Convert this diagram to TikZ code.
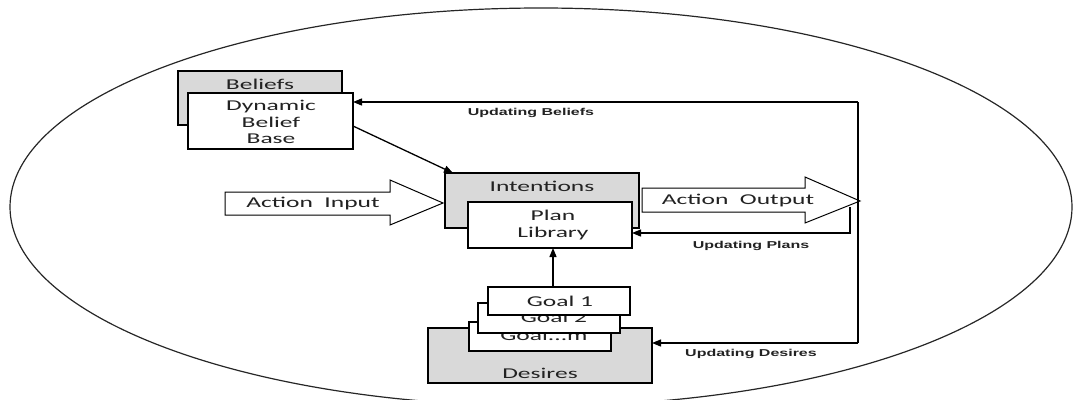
\documentclass[tikz,border=0pt]{standalone}
\usepackage{fontspec}
\usetikzlibrary{arrows.meta,calc}
\newfontfamily\boxfont[FakeStretch=1.7]{Carlito}
\newfontfamily\lblfont[FakeStretch=1.6]{Liberation Sans}
\definecolor{boxgray}{HTML}{D9D9D9}
\definecolor{ink}{HTML}{222222}
\tikzset{
  wbox/.style={draw=black, line width=1.4pt, fill=white, inner sep=0pt, outer sep=0pt},
  gbox/.style={wbox, fill=boxgray},
  txt/.style={font=\boxfont\fontsize{15}{16.5}\selectfont, align=center, text=ink, inner sep=0pt},
  lbl/.style={font=\lblfont\bfseries\fontsize{10}{12}\selectfont, text=ink, inner sep=0pt},
  conn/.style={draw=black, line width=1.3pt, -{Triangle[length=9pt,width=7pt]}},
  plain/.style={draw=black, line width=1.3pt},
  blockarrow/.style={draw=black, line width=1pt, fill=white, line join=miter}
}
\begin{document}
\begin{tikzpicture}[x=1pt,y=-1pt]
\useasboundingbox (0,0) rectangle (1073,399);
\clip (0,0) rectangle (1073,399);
% outer ellipse
\draw[line width=1.2pt, draw=black!85] (541,207) ellipse [x radius=531, y radius=199];

% Beliefs
\node[gbox, minimum width=164, minimum height=54] (beliefs) at (260,98) {};
\node[txt] (beliefsT) at (260,84) {Beliefs};
\node[wbox, minimum width=165, minimum height=56] (dyn) at (270.5,121) {};
\node[txt] (dynT) at (271,122) {Dynamic\\Belief\\Base};

% Intentions
\node[gbox, minimum width=194, minimum height=55] (intent) at (542,200.5) {};
\node[txt] (intentT) at (542,186) {Intentions};
\node[wbox, minimum width=164, minimum height=46] (plan) at (550,225) {};
\node[txt] (planT) at (553,225) {Plan\\ Library};

% Desires and goals
\node[gbox, minimum width=224, minimum height=55] (desires) at (540,355.5) {};
\node[txt] (desiresT) at (540,373) {Desires};
\node[wbox, minimum width=142, minimum height=29] (goalm) at (540,336.5) {};
\node[txt] (goalmT) at (544,335) {Goal...m};
\node[wbox, minimum width=142, minimum height=30] (goal2) at (549,318) {};
\node[txt] (goal2T) at (554,317) {Goal 2};
\node[wbox, minimum width=142, minimum height=28] (goal1) at (559,301) {};
\node[txt] (goal1T) at (560,301) {Goal 1};

% Block arrows
\draw[blockarrow] (225,192) -- (390,192) -- (390,180) -- (443,203) -- (390,225) -- (390,215) -- (225,215) -- cycle;
\node[txt] (inT) at (313,203.5) {Action\ \ Input};
\draw[blockarrow] (642,188) -- (805,188) -- (805,177) -- (860,201) -- (805,223) -- (805,212) -- (642,212) -- cycle;
\node[txt] (outT) at (738,200.5) {Action\ \ Output};

% Connectors
\coordinate (vt) at (858,102);
\coordinate (vb) at (858,343);
\draw[plain] (vt) -- (vb);
\draw[conn] (vt) -- (vt -| dyn.east);
\draw[conn] (vb) -- (vb -| desires.east);
\coordinate (pt) at (850,207);
\coordinate (pc) at (850,233);
\draw[conn] (pt) -- (pc) -- (pc -| plan.east);
\draw[conn] ($(dyn.east)+(0,5)$) -- ($(intent.north west)+(8,0)$);
\draw[conn] (goal1.north -| 553,0) -- (plan.south -| 553,0);

% Labels
\node[lbl] (ub) at (531,113) {Updating Beliefs};
\node[lbl] (up) at (751,246) {Updating Plans};
\node[lbl] (ud) at (751,354) {Updating Desires};
\end{tikzpicture}
\end{document}
